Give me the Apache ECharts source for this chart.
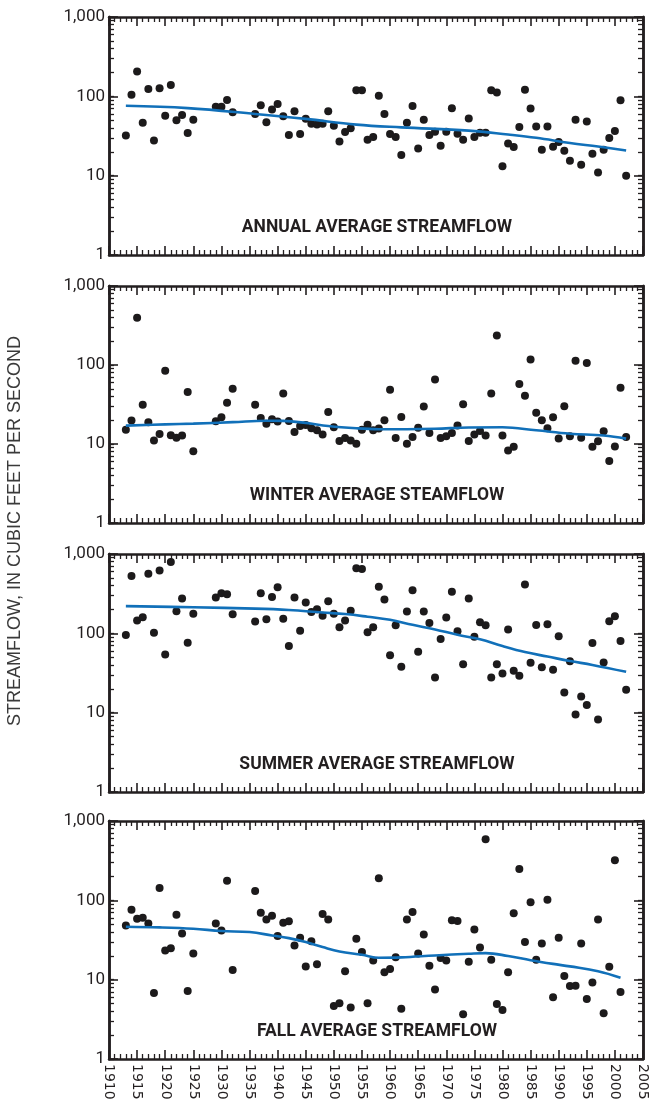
<!DOCTYPE html>
<html>
<head>
<meta charset="utf-8">
<style>
  html, body { margin: 0; padding: 0; background: #fff; }
  #chart { width: 654px; height: 1103px; }
</style>
<script src="https://cdn.jsdelivr.net/npm/echarts@6/dist/echarts.min.js"></script>
</head>
<body>
<div id="chart"></div>
<script>
// Water years with records (gaps 1926-28 and 1933-35)
const years = [
  1913, 1914, 1915, 1916, 1917, 1918, 1919, 1920, 1921, 1922, 1923, 1924, 1925,
  1929, 1930, 1931, 1932,
  1936, 1937, 1938, 1939, 1940, 1941, 1942, 1943, 1944, 1945, 1946, 1947, 1948, 1949,
  1950, 1951, 1952, 1953, 1954, 1955, 1956, 1957, 1958, 1959,
  1960, 1961, 1962, 1963, 1964, 1965, 1966, 1967, 1968, 1969,
  1970, 1971, 1972, 1973, 1974, 1975, 1976, 1977, 1978, 1979,
  1980, 1981, 1982, 1983, 1984, 1985, 1986, 1987, 1988, 1989,
  1990, 1991, 1992, 1993, 1994, 1995, 1996, 1997, 1998, 1999,
  2000, 2001, 2002
];

// Average streamflow, cubic feet per second
const annualFlow = [
  32, 105, 205, 46.5, 124, 27.8, 126, 57, 139, 50, 58, 34.4, 50.8,
  74, 74, 90, 63,
  60, 77, 47, 68, 80, 56, 32.5, 65, 33.5, 52, 45, 44, 45, 65,
  42.6, 27, 35.5, 39.5, 119, 119, 28.4, 30.7, 102, 60,
  33.5, 30.7, 18.2, 46.5, 75.5, 22, 50.8, 32.5, 35.8, 23.8,
  35.8, 70.6, 33.8, 28.4, 52.7, 30.7, 34.8, 34.8, 119, 112,
  13.1, 25.5, 23, 41, 121, 70, 41.8, 21.2, 41.8, 23.2,
  26.5, 20.6, 15.4, 50.8, 13.7, 48.3, 18.9, 11, 21.2, 29.8,
  36.5, 89, 10
];
const winterFlow = [
  15.2, 19.8, 396, 31.3, 18.8, 11.1, 13.4, 84.7, 12.9, 12, 12.8, 45.4, 8.1,
  19.4, 21.8, 33.2, 50,
  31.3, 21.4, 18.1, 20.6, 19.2, 43.6, 19.6, 14.2, 16.9, 17.4, 15.8, 14.9, 13.2, 25.5,
  16.3, 10.9, 11.9, 11.1, 10.1, 15.2, 17.5, 14.9, 15.7, 20,
  48.6, 11.9, 22, 10.1, 12.3, 16, 29.8, 13.8, 65.7, 11.9,
  12.5, 13.8, 17.1, 31.9, 10.9, 13.2, 14.6, 12.8, 43.6, 236,
  12.8, 8.3, 9.2, 57.4, 40.7, 117, 24.8, 20, 15.8, 21.8,
  11.7, 30.1, 12.5, 113.5, 12, 106, 9.2, 10.8, 14.5, 6.1,
  9.3, 51.5, 12.3
];
const summerFlow = [
  95, 527, 145, 160, 564, 102, 621, 54, 792, 190, 275, 76, 176,
  283, 321, 312, 174,
  141, 321, 150, 288, 382, 153, 69, 283, 108, 244, 186, 201, 166, 254,
  177, 119, 145, 192, 659, 646, 103, 119, 386, 267,
  53, 126, 38, 188, 350, 58.6, 188, 135, 27.7, 84.8,
  158, 334, 106, 40.9, 275, 90.8, 138, 126, 27.7, 40.9,
  31.2, 112, 33.7, 29.1, 413, 42.6, 127, 37.5, 130, 34.7,
  91.6, 17.9, 44.6, 9.5, 16, 12.5, 75.5, 8.2, 43, 142,
  164, 80, 19.5
];
// Fall record ends with 2001
const fallFlow = [
  48.3, 76.2, 58.7, 60.4, 51.2, 6.8, 143, 23.4, 24.8, 65.9, 38.3, 7.2, 21.4,
  51.2, 41.8, 177, 13.2,
  131, 69.8, 57.5, 64, 35.4, 52.2, 54.3, 27, 33.8, 14.7, 30.6, 15.6, 67.2, 57.5,
  4.67, 5.05, 12.8, 4.45, 32.8, 22.3, 5.05, 17.5, 190, 12.4,
  13.6, 19.2, 4.3, 57.5, 71.2, 21.4, 37.2, 15, 7.5, 18.7,
  17.5, 55.9, 54.8, 3.67, 16.8, 43, 25.5, 590, 17.8, 4.95,
  4.16, 12.4, 68.5, 249, 29.8, 94.4, 17.8, 28.6, 102, 6,
  33.8, 11.1, 8.3, 8.4, 28.6, 5.7, 9.2, 57.5, 3.77, 14.5,
  320, 7.0
];

// Smoothed trend curves, [year, cubic feet per second]
const annualTrend = [[1913, 76], [1924, 71], [1936, 60], [1945, 52], [1954, 44], [1962, 40.6],
  [1974, 37], [1981, 33], [1986, 30], [1992, 25.8], [1997, 23.3], [2002, 20.8]];
const winterTrend = [[1913, 17.1], [1920, 17.7], [1925, 18.1], [1932, 18.9], [1938, 19.7], [1941, 19.6],
  [1945, 18.5], [1949, 16.9], [1954, 15.8], [1958, 15.4], [1963, 15.4], [1968, 15.6], [1974, 16.2],
  [1980, 16.3], [1986, 14.9], [1992, 13.5], [1998, 12.8], [2002, 11.7]];
const summerTrend = [[1913, 220], [1925, 213], [1936, 205], [1942, 197], [1948, 183], [1952, 175],
  [1956, 162], [1960, 148], [1964, 128], [1968, 112], [1972, 96], [1976, 84], [1980, 69],
  [1984, 58], [1988, 51], [1992, 44.7], [1996, 40], [2002, 32.7]];
const fallTrend = [[1913, 46.5], [1919, 45.6], [1925, 43.8], [1930, 41], [1935, 39.8], [1939, 36.1],
  [1942, 33.4], [1945, 29.8], [1948, 25.8], [1951, 22.7], [1955, 20.6], [1958, 18.9], [1962, 19.1],
  [1968, 20.2], [1974, 21.2], [1977, 21.6], [1981, 19.9], [1985, 17.6], [1989, 15.8], [1992, 14.7],
  [1997, 12.8], [2001, 10.6]];

const panelTitles = ['ANNUAL AVERAGE STREAMFLOW', 'WINTER AVERAGE STEAMFLOW',
  'SUMMER AVERAGE STREAMFLOW', 'FALL AVERAGE STREAMFLOW'];
// decade ticks and intermediate log ticks 2..9 in each decade
const yMajorTicks = [1, 10, 100, 1000];
const yMinorTicks = [1, 2, 3, 4, 5, 6, 7, 8, 9, 10, 20, 30, 40, 50, 60, 70, 80, 90,
  100, 200, 300, 400, 500, 600, 700, 800, 900, 1000];
const yAxisTitle = 'STREAMFLOW, IN CUBIC FEET PER SECOND';

const flows = [annualFlow, winterFlow, summerFlow, fallFlow];
const trends = [annualTrend, winterTrend, summerTrend, fallTrend];

const INK = '#231f20';
const BLUE = '#1170b9';
// a dash far longer than any tick draws solid, and keeps each tick stroked on its own
const TICK_DASH = [60, 1];

const panels = [
  { top: 17, height: 238 },
  { top: 286, height: 237 },
  { top: 554, height: 238 },
  { top: 821, height: 238 }
];
const LEFT = 109, WIDTH = 537;
const MAJOR_LEN = 9, MINOR_LEN = 5;

function xAxisOf(i, extra) {
  return Object.assign({
    type: 'value', gridIndex: i, min: 1910, max: 2005, interval: 5,
    axisLine: { show: true, lineStyle: { color: INK, width: 2.5 } },
    axisTick: { show: true, inside: true, length: MAJOR_LEN, lineStyle: { color: INK, width: 1.6, type: TICK_DASH } },
    minorTick: { show: true, splitNumber: 5, length: MINOR_LEN, lineStyle: { color: INK, width: 1.3, type: TICK_DASH } },
    splitLine: { show: false }, minorSplitLine: { show: false },
    axisLabel: { show: false }
  }, extra);
}
function yAxisOf(i, extra) {
  return Object.assign({
    type: 'log', logBase: 10, gridIndex: i, min: 1, max: 1000,
    axisLine: { show: true, lineStyle: { color: INK, width: 2.5 } },
    axisTick: { show: true, inside: true, length: MAJOR_LEN, lineStyle: { color: INK, width: 1.6, type: TICK_DASH } },
    splitLine: { show: false },
    axisLabel: { show: false }
  }, extra);
}
function minorYAxisOf(i, position) {
  return yAxisOf(i, {
    position,
    axisTick: { show: true, inside: true, length: MINOR_LEN, customValues: yMinorTicks.slice(),
      lineStyle: { color: INK, width: 1.3, type: TICK_DASH } },
    axisLabel: { show: true, formatter: () => '' }
  });
}

const grid = [], xAxis = [], yAxis = [], series = [], title = [];

panels.forEach((p, i) => {
  grid.push({ left: LEFT, top: p.top, width: WIDTH, height: p.height });

  const lastPanel = i === panels.length - 1;
  xAxis.push(xAxisOf(i, {
    position: 'bottom',
    axisLabel: {
      show: lastPanel, rotate: -90, margin: 5, color: INK,
      fontFamily: "'DejaVu Sans', sans-serif", fontSize: 14,
      formatter: v => String(v)
    }
  }));
  xAxis.push(xAxisOf(i, { position: 'top' }));

  // left axis: decade ticks and labels
  yAxis.push(yAxisOf(i, {
    position: 'left',
    axisLabel: {
      show: true, margin: 4, color: INK, fontFamily: 'Roboto, sans-serif', fontSize: 17,
      formatter: v => Number(v).toLocaleString('en-US')
    }
  }));
  yAxis.push(minorYAxisOf(i, 'left'));
  // right axis: ticks only
  yAxis.push(yAxisOf(i, { position: 'right' }));
  yAxis.push(minorYAxisOf(i, 'right'));

  series.push({
    type: 'scatter', xAxisIndex: 2 * i, yAxisIndex: 4 * i,
    data: flows[i].map((v, k) => [years[k], v]),
    symbol: 'circle', symbolSize: 8,
    itemStyle: { color: '#1c1a1b', opacity: 1 }, z: 3, silent: true
  });
  series.push({
    type: 'line', xAxisIndex: 2 * i, yAxisIndex: 4 * i,
    data: trends[i], smooth: 0.4, showSymbol: false,
    lineStyle: { color: BLUE, width: 2.6 }, z: 4, silent: true
  });

  title.push({
    text: panelTitles[i], left: LEFT + WIDTH / 2 - 0.5, top: p.top + p.height - 36,
    textAlign: 'center', padding: 0,
    textStyle: { fontFamily: 'Roboto, sans-serif', fontWeight: 'bold', fontSize: 17.5, color: INK }
  });
});

// full-height frame carrying the shared vertical axis title
grid.push({ left: 15, top: 17, width: 1, height: 1028 });
xAxis.push({ type: 'value', gridIndex: 4, show: false, min: 0, max: 1 });
yAxis.push({
  type: 'value', gridIndex: 4, min: 0, max: 1,
  axisLine: { show: false }, axisTick: { show: false }, axisLabel: { show: false },
  splitLine: { show: false },
  name: yAxisTitle, nameLocation: 'middle', nameRotate: 90, nameGap: 0,
  nameTextStyle: {
    fontFamily: "'Liberation Sans', sans-serif", fontSize: 18, color: '#3a3a3a',
    align: 'center', verticalAlign: 'middle'
  }
});

const chart = echarts.init(document.getElementById('chart'));
chart.setOption({
  animation: false,
  grid, xAxis, yAxis, series, title
});

// ---- make sure the frame ticks are on the canvas ----
// Reads back a pixel where a tick must be; any tick family the axes did not
// paint is drawn from the same axis scales.
const canvas = chart.getDom().getElementsByTagName('canvas')[0];
const ctx2d = canvas && canvas.getContext('2d');
function isInked(x, y) {
  if (!ctx2d) return true;
  try {
    const d = ctx2d.getImageData(Math.round(x) - 1, Math.round(y), 3, 1).data;
    for (let k = 0; k < d.length; k += 4) {
      if (d[k + 3] > 100 && d[k] < 150) return true;
    }
    return false;
  } catch (e) { return true; }
}
const px = (i, year) => chart.convertToPixel({ xAxisIndex: 2 * i }, year);
const py = (i, v) => chart.convertToPixel({ yAxisIndex: 4 * i }, v);

const top0 = py(0, 1000);
const need = {
  xMajor: !isInked(px(0, 1915), top0 + 7),
  xMinor: !isInked(px(0, 1912), top0 + 3),
  yMajor: !isInked(LEFT + 7, py(0, 10)),
  yMinor: !isInked(LEFT + 3, py(0, 2))
};

if (need.xMajor || need.xMinor || need.yMajor || need.yMinor) {
  const elements = [];
  const seg = (x1, y1, x2, y2, w) => elements.push({
    type: 'line', silent: true, z: 50,
    shape: { x1, y1, x2, y2 },
    style: { stroke: INK, lineWidth: w }
  });
  panels.forEach((p, i) => {
    const yTop = py(i, 1000), yBot = py(i, 1);
    const xL = px(i, 1910), xR = px(i, 2005);
    for (let yr = 1910; yr <= 2005; yr++) {
      const major = yr % 5 === 0;
      if ((major && !need.xMajor) || (!major && !need.xMinor)) continue;
      const x = px(i, yr), len = major ? MAJOR_LEN : MINOR_LEN, w = major ? 1.6 : 1.3;
      seg(x, yTop, x, yTop + len, w);
      seg(x, yBot, x, yBot - len, w);
    }
    yMinorTicks.forEach(v => {
      const major = yMajorTicks.indexOf(v) >= 0;
      if ((major && !need.yMajor) || (!major && !need.yMinor)) return;
      const y = py(i, v), len = major ? MAJOR_LEN : MINOR_LEN, w = major ? 1.6 : 1.3;
      seg(xL, y, xL + len, y, w);
      seg(xR, y, xR - len, y, w);
    });
  });
  chart.setOption({ graphic: { elements } });
}
</script>
</body>
</html>
